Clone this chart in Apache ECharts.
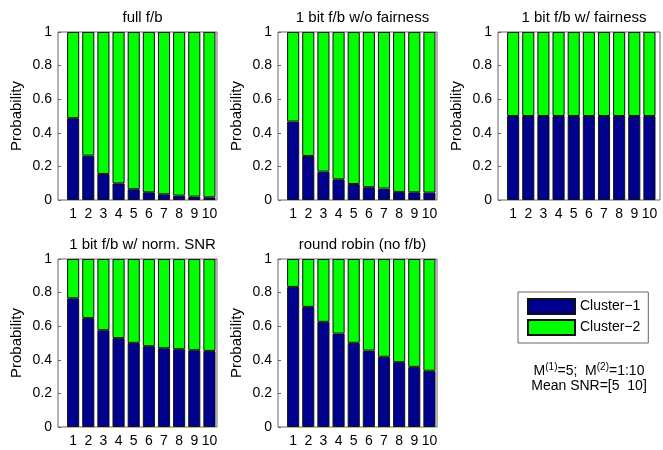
<!DOCTYPE html>
<html>
<head>
<meta charset="utf-8">
<script src="https://cdn.jsdelivr.net/npm/echarts@6/dist/echarts.min.js"></script>
<style>html,body{margin:0;padding:0;background:#fff;}#c{width:663px;height:450px;}</style>
</head>
<body>
<div id="c"></div>
<script>
var categories = ['1', '2', '3', '4', '5', '6', '7', '8', '9', '10'];
var yTicks = [0, 0.2, 0.4, 0.6, 0.8, 1];
var titles = ['full f/b', '1 bit f/b w/o fairness', '1 bit f/b w/ fairness', '1 bit f/b w/ norm. SNR', 'round robin (no f/b)'];
var seriesNames = ['Cluster\u22121', 'Cluster\u22122'];

var fullFb_c1 = [0.487, 0.264, 0.155, 0.099, 0.064, 0.046, 0.034, 0.026, 0.020, 0.016];
var fullFb_c2 = [0.513, 0.736, 0.845, 0.901, 0.936, 0.954, 0.966, 0.974, 0.980, 0.984];
var noFair_c1 = [0.467, 0.262, 0.169, 0.123, 0.095, 0.076, 0.068, 0.048, 0.046, 0.044];
var noFair_c2 = [0.533, 0.738, 0.831, 0.877, 0.905, 0.924, 0.932, 0.952, 0.954, 0.956];
var fair_c1 = [0.5, 0.5, 0.5, 0.5, 0.5, 0.5, 0.5, 0.5, 0.5, 0.5];
var fair_c2 = [0.5, 0.5, 0.5, 0.5, 0.5, 0.5, 0.5, 0.5, 0.5, 0.5];
var normSnr_c1 = [0.766, 0.648, 0.576, 0.529, 0.501, 0.481, 0.469, 0.463, 0.457, 0.453];
var normSnr_c2 = [0.234, 0.352, 0.424, 0.471, 0.499, 0.519, 0.531, 0.537, 0.543, 0.547];
var rr_c1 = [0.834, 0.715, 0.626, 0.556, 0.501, 0.455, 0.418, 0.386, 0.358, 0.335];
var rr_c2 = [0.166, 0.285, 0.374, 0.444, 0.499, 0.545, 0.582, 0.614, 0.642, 0.665];

var panels = [
  [fullFb_c1, fullFb_c2],
  [noFair_c1, noFair_c2],
  [fair_c1, fair_c2],
  [normSnr_c1, normSnr_c2],
  [rr_c1, rr_c2]
];

// frame boxes (axes outline); bars occupy x 0.5..10.5 of an xlim [0, 10.5]
var boxes = [
  {left: 58, top: 32, width: 159, height: 168},
  {left: 278, top: 32, width: 159, height: 168},
  {left: 498, top: 32, width: 162, height: 168},
  {left: 58, top: 259, width: 159, height: 168},
  {left: 278, top: 259, width: 159, height: 168}
];

var colors = ['#00008F', '#00FF00'];
var FONT = 'Liberation Sans, Arial, sans-serif';

var grid = [], xAxis = [], yAxis = [], series = [], title = [];
boxes.forEach(function (b, i) {
  var unit = 159 / 10.5;
  var fi = i * 2, di = i * 2 + 1;
  grid.push({left: b.left, top: b.top, width: b.width, height: b.height,
    show: true, borderColor: '#666', borderWidth: 1, backgroundColor: '#fff'});
  grid.push({left: b.left + unit * 0.5, top: b.top, width: unit * 10, height: b.height, show: false});
  title.push({text: titles[i], left: b.left + b.width / 2, top: b.top - 27, textAlign: 'center',
    textStyle: {fontFamily: FONT, fontSize: 15, fontWeight: 'normal', color: '#000'}});
  xAxis.push({type: 'value', gridIndex: fi, min: 0, max: 1, show: false});
  xAxis.push({type: 'category', gridIndex: di, data: categories, boundaryGap: true,
    axisLine: {show: false}, axisTick: {show: false}, splitLine: {show: false},
    axisLabel: {fontFamily: FONT, fontSize: 14, color: '#000', margin: 7, interval: 0}});
  yAxis.push({type: 'value', gridIndex: fi, min: yTicks[0], max: yTicks[yTicks.length - 1], interval: 0.2,
    name: 'Probability', nameLocation: 'middle', nameGap: 34,
    nameTextStyle: {fontFamily: FONT, fontSize: 15, color: '#000'},
    axisLine: {show: false}, splitLine: {show: false},
    axisTick: {show: true, inside: true, length: 3, lineStyle: {color: '#666'}},
    axisLabel: {fontFamily: FONT, fontSize: 14, color: '#000', margin: 6}});
  yAxis.push({type: 'value', gridIndex: di, min: yTicks[0], max: yTicks[yTicks.length - 1], show: false});
  for (var s = 0; s < 2; s++) {
    series.push({
      name: seriesNames[s], type: 'bar', stack: 'p' + i,
      xAxisIndex: di, yAxisIndex: di,
      barWidth: '80%',
      itemStyle: {color: colors[s], borderColor: '#111', borderWidth: 1},
      emphasis: {disabled: true},
      data: panels[i][s]
    });
  }
});

var chart = echarts.init(document.getElementById('c'), null, {renderer: 'canvas'});
chart.setOption({
  animation: false,
  backgroundColor: '#fff',
  title: title,
  grid: grid,
  xAxis: xAxis,
  yAxis: yAxis,
  series: series,
  legend: {
    data: seriesNames, orient: 'vertical', left: 518, top: 292,
    itemWidth: 47, itemHeight: 15, itemGap: 4, icon: 'rect',
    padding: [6, 8, 7, 9], borderColor: '#666', borderWidth: 1, backgroundColor: '#fff',
    textStyle: {fontFamily: FONT, fontSize: 14, color: '#000'},
    selectedMode: false
  },
  graphic: [
    {type: 'text', x: 589, y: 371, silent: true,
      style: {text: 'M{s|(1)}=5;  M{s|(2)}=1:10', align: 'center', verticalAlign: 'middle',
        font: '14px ' + FONT, fill: '#000',
        rich: {s: {fontSize: 10, verticalAlign: 'top', padding: [0, 0, 8, 0], fontFamily: FONT}}}},
    {type: 'text', x: 589, y: 386, silent: true,
      style: {text: 'Mean SNR=[5  10]', align: 'center', verticalAlign: 'middle',
        font: '14px ' + FONT, fill: '#000'}}
  ]
});
</script>
</body>
</html>
